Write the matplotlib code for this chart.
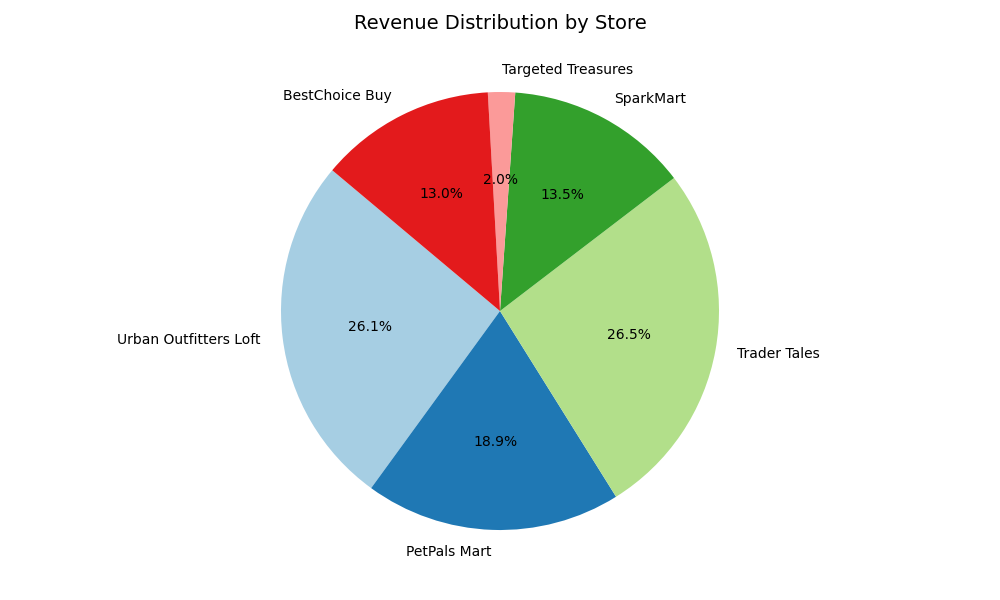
import matplotlib
matplotlib.use("Agg")
import matplotlib.pyplot as plt

stores = ["Urban Outfitters Loft", "PetPals Mart", "Trader Tales", "SparkMart",
          "Targeted Treasures", "BestChoice Buy"]
revenue_share = [26.1, 18.9, 26.5, 13.5, 2.0, 13.0]

colors = plt.cm.Paired.colors[:len(stores)]

fig = plt.figure(figsize=(10, 6), dpi=100)
ax = fig.add_axes([0.1, 0.03, 0.8, 0.9033])
ax.pie(revenue_share, labels=stores, colors=colors, autopct='%1.1f%%', startangle=140)
ax.set_xlim(-1.826, 1.826)
ax.set_ylim(-1.2374, 1.2374)
ax.axis('off')
ax.set_title("Revenue Distribution by Store", fontsize=14, pad=8.2)

plt.savefig("out.png")
